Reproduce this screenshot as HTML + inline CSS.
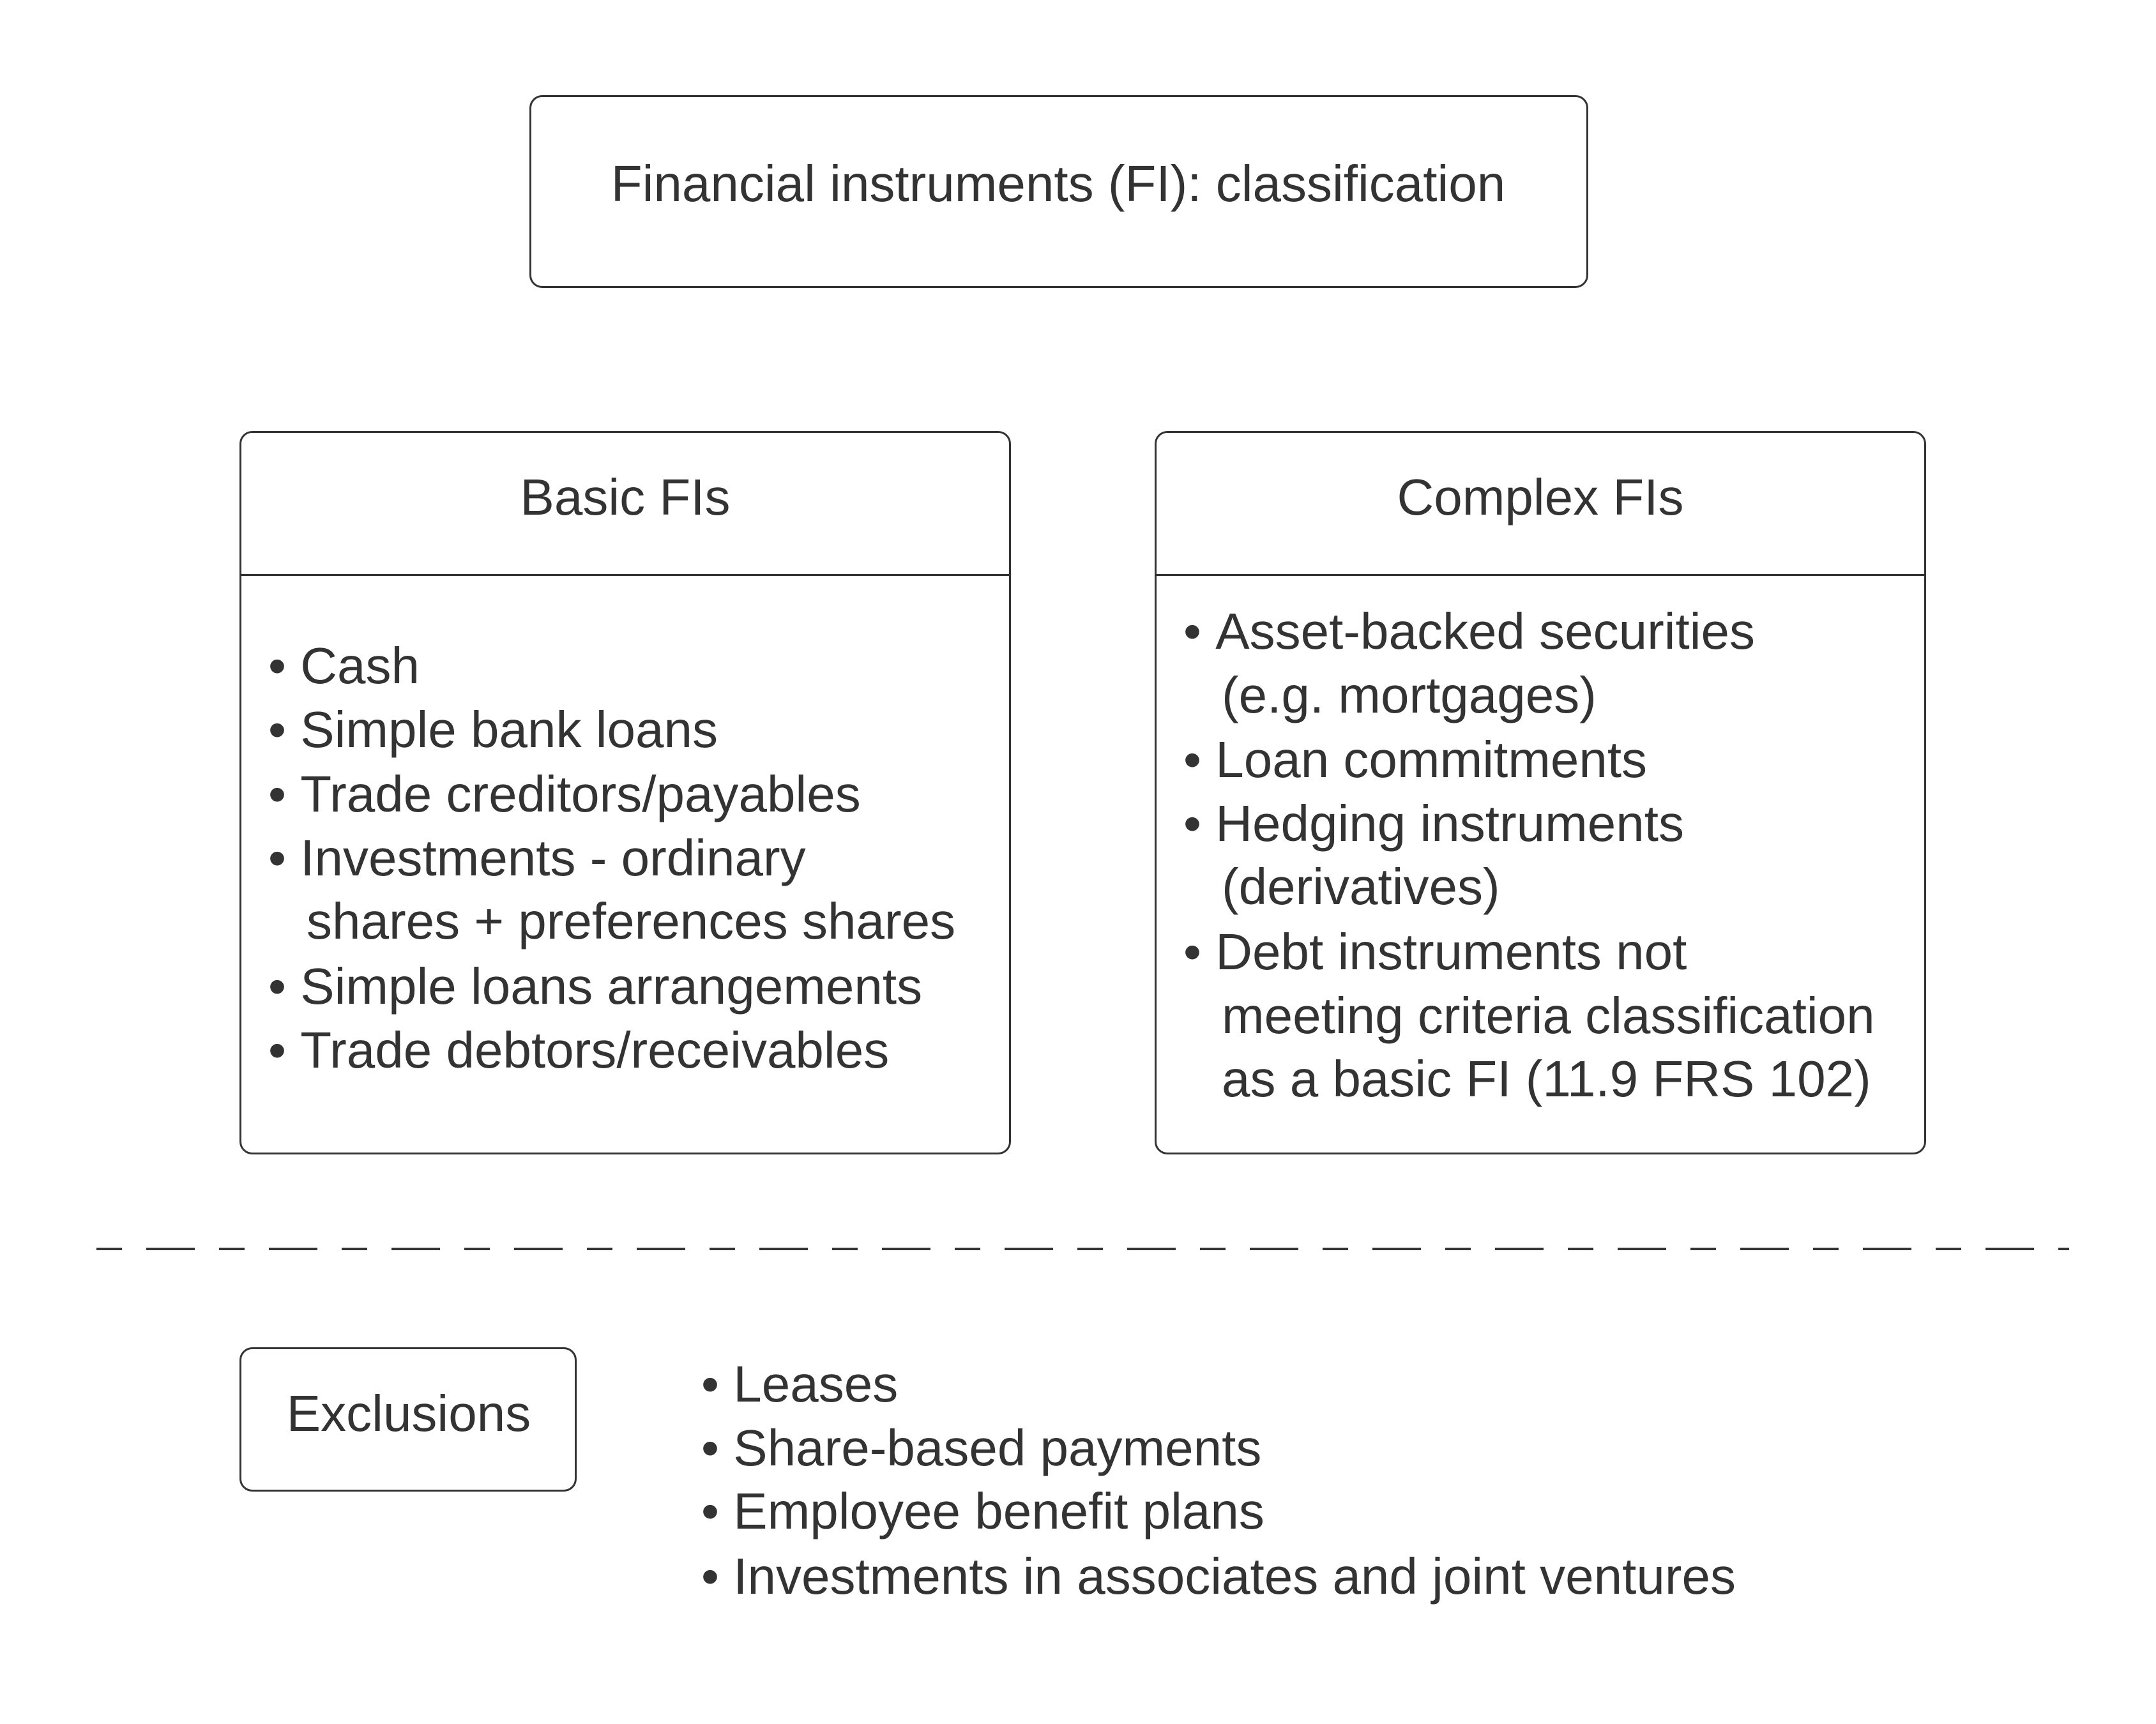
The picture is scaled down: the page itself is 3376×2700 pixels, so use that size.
<!DOCTYPE html>
<html><head><meta charset="utf-8"><style>
html,body{margin:0;padding:0;background:#fff}
body{width:3376px;height:2700px;position:relative;overflow:hidden;font-family:"Liberation Sans",Arial,sans-serif;color:#333}
.box{position:absolute;border:3px solid #333;border-radius:20px;box-sizing:border-box}
.t{position:absolute;font-size:80px;line-height:100px;white-space:nowrap}
.c{text-align:center;transform:translateX(-50%)}
.hl{position:absolute;height:3px;background:#333}
</style></head><body>
<div class="box" style="left:829px;top:149px;width:1658px;height:302px"></div>
<div class="t c" style="left:1657px;top:238px;font-size:80px">Financial instruments (FI): classification</div>

<div class="box" style="left:375px;top:675px;width:1208px;height:1133px"></div>
<div class="hl" style="left:375px;top:899px;width:1208px"></div>
<div class="t c" style="left:979px;top:729px">Basic FIs</div>

<div class="box" style="left:1808px;top:675px;width:1208px;height:1133px"></div>
<div class="hl" style="left:1808px;top:899px;width:1208px"></div>
<div class="t c" style="left:2412px;top:729px">Complex FIs</div>

<div class="t" style="left:420px;top:993px">•&nbsp;Cash</div>
<div class="t" style="left:420px;top:1093px">•&nbsp;Simple bank loans</div>
<div class="t" style="left:420px;top:1194px">•&nbsp;Trade creditors/payables</div>
<div class="t" style="left:420px;top:1294px">•&nbsp;Investments - ordinary</div>
<div class="t" style="left:480px;top:1393px">shares + preferences shares</div>
<div class="t" style="left:420px;top:1495px">•&nbsp;Simple loans arrangements</div>
<div class="t" style="left:420px;top:1595px">•&nbsp;Trade debtors/receivables</div>

<div class="t" style="left:1853px;top:939px">•&nbsp;Asset-backed securities</div>
<div class="t" style="left:1913px;top:1039px">(e.g. mortgages)</div>
<div class="t" style="left:1853px;top:1140px">•&nbsp;Loan commitments</div>
<div class="t" style="left:1853px;top:1240px">•&nbsp;Hedging instruments</div>
<div class="t" style="left:1913px;top:1339px">(derivatives)</div>
<div class="t" style="left:1853px;top:1441px">•&nbsp;Debt instruments not</div>
<div class="t" style="left:1913px;top:1541px">meeting criteria classification</div>
<div class="t" style="left:1913px;top:1640px">as a basic FI (11.9 FRS 102)</div>

<svg style="position:absolute;left:0;top:0" width="3376" height="2700">
<line x1="151" y1="1956" x2="3240" y2="1956" stroke="#333" stroke-width="4" stroke-dasharray="40 38 76 38"/>
</svg>

<div class="box" style="left:375px;top:2110px;width:528px;height:226px"></div>
<div class="t c" style="left:640px;top:2164px">Exclusions</div>

<div class="t" style="left:1098px;top:2118px">•&nbsp;Leases</div>
<div class="t" style="left:1098px;top:2218px">•&nbsp;Share-based payments</div>
<div class="t" style="left:1098px;top:2317px">•&nbsp;Employee benefit plans</div>
<div class="t" style="left:1098px;top:2419px">•&nbsp;Investments in associates and joint ventures</div>
</body></html>
